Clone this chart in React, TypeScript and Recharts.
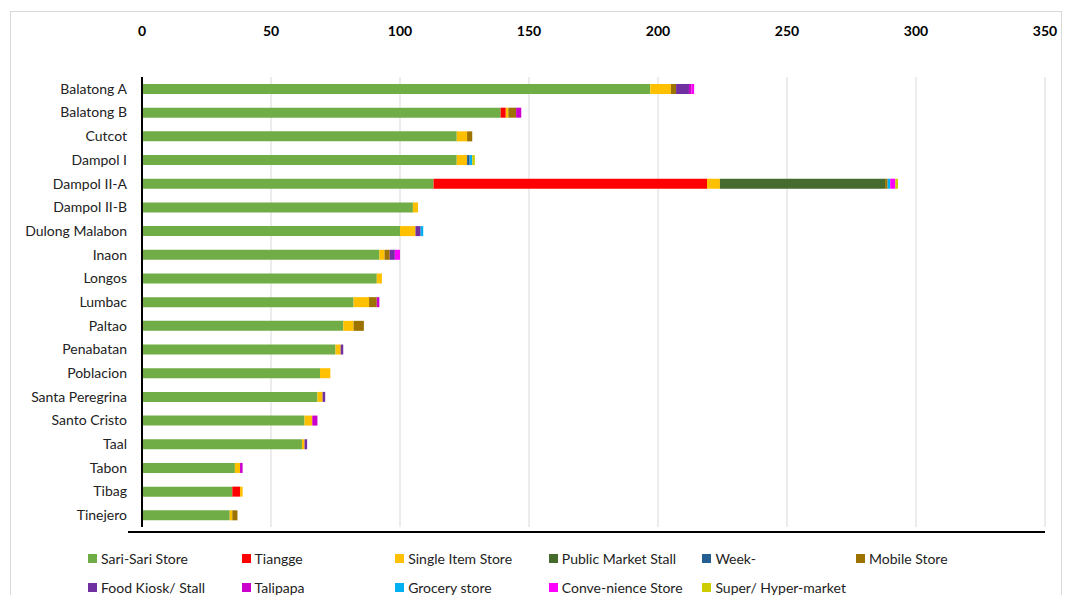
import React from 'react';
import { BarChart, Bar, XAxis, YAxis, CartesianGrid, Legend } from 'recharts';

const categories = ['Balatong A', 'Balatong B', 'Cutcot', 'Dampol I', 'Dampol II-A', 'Dampol II-B', 'Dulong Malabon', 'Inaon', 'Longos', 'Lumbac', 'Paltao', 'Penabatan', 'Poblacion', 'Santa Peregrina', 'Santo Cristo', 'Taal', 'Tabon', 'Tibag', 'Tinejero'];

const sariSari = [197, 139, 122, 122, 113, 105, 100, 92, 91, 82, 78, 75, 69, 68, 63, 62, 36, 35, 34];
const tiangge = [0, 2, 0, 0, 106, 0, 0, 0, 0, 0, 0, 0, 0, 0, 0, 0, 0, 3, 0];
const singleItem = [8, 1, 4, 4, 5, 2, 6, 2, 2, 6, 4, 2, 4, 2, 3, 1, 2, 1, 1];
const publicMarket = [0, 0, 0, 0, 64, 0, 0, 0, 0, 0, 0, 0, 0, 0, 0, 0, 0, 0, 0];
const week = [0, 0, 0, 1, 0, 0, 0, 0, 0, 0, 0, 0, 0, 0, 0, 0, 0, 0, 0];
const mobile = [2, 3, 2, 0, 1, 0, 0, 2, 0, 3, 4, 0, 0, 0, 0, 0, 0, 0, 2];
const foodKiosk = [5, 0, 0, 0, 0, 0, 2, 2, 0, 0, 0, 1, 0, 1, 0, 1, 0, 0, 0];
const talipapa = [1, 2, 0, 0, 0, 0, 0, 0, 0, 1, 0, 0, 0, 0, 2, 0, 1, 0, 0];
const grocery = [0, 0, 0, 1, 1, 0, 1, 0, 0, 0, 0, 0, 0, 0, 0, 0, 0, 0, 0];
const convenience = [1, 0, 0, 0, 2, 0, 0, 2, 0, 0, 0, 0, 0, 0, 0, 0, 0, 0, 0];
const superMarket = [0, 0, 0, 1, 1, 0, 0, 0, 0, 0, 0, 0, 0, 0, 0, 0, 0, 0, 0];

const xTicks = [0, 50, 100, 150, 200, 250, 300, 350];

const series = [
  { key: 'sari', name: 'Sari-Sari Store', values: sariSari, color: '#70AD47' },
  { key: 'tiangge', name: 'Tiangge', values: tiangge, color: '#FF0000' },
  { key: 'single', name: 'Single Item Store', values: singleItem, color: '#FFC000' },
  { key: 'public', name: 'Public Market Stall', values: publicMarket, color: '#466B2E' },
  { key: 'week', name: 'Week-', values: week, color: '#255E91' },
  { key: 'mobile', name: 'Mobile Store', values: mobile, color: '#9C7200' },
  { key: 'kiosk', name: 'Food Kiosk/ Stall', values: foodKiosk, color: '#7030A0' },
  { key: 'talipapa', name: 'Talipapa', values: talipapa, color: '#CC00CC' },
  { key: 'grocery', name: 'Grocery store', values: grocery, color: '#00B0F0' },
  { key: 'conv', name: 'Conve-nience Store', values: convenience, color: '#FF00FF' },
  { key: 'super', name: 'Super/ Hyper-market', values: superMarket, color: '#CCCC00' },
];

const data = categories.map((name, i) => {
  const row: Record<string, string | number> = { name };
  series.forEach((s) => {
    row[s.key] = s.values[i];
  });
  return row;
});

const FONT = 'Lato, "Noto Sans", sans-serif';

const renderLegend = (props: any) => {
  const payload = props.payload || [];
  const ordered = series
    .map((s) => payload.find((p: any) => p.value === s.name) || { value: s.name, color: s.color })
    .filter(Boolean);
  return (
    <div
      style={{
        display: 'grid',
        gridTemplateColumns: 'repeat(6, 153.6px)',
        rowGap: 12,
        fontFamily: FONT,
        fontSize: 14,
        color: '#222',
        textAlign: 'left',
      }}
    >
      {ordered.map((p: any) => (
        <div key={p.value} style={{ display: 'flex', alignItems: 'center', height: 17, whiteSpace: 'nowrap' }}>
          <span style={{ display: 'inline-block', width: 9, height: 9, background: p.color, marginRight: 4 }} />
          <span>{p.value}</span>
        </div>
      ))}
    </div>
  );
};

export default function App() {
  return (
    <div style={{ position: 'relative', width: 1058, height: 587, overflow: 'hidden', background: '#fff' }}>
      <div
        style={{
          position: 'absolute',
          left: 2,
          top: 3,
          width: 1052,
          height: 640,
          border: '1px solid #D9D9D9',
          boxSizing: 'border-box',
        }}
      />
      <BarChart
        width={1058}
        height={587}
        data={data}
        layout="vertical"
        margin={{ top: 0, right: 21, bottom: 68, left: 0 }}
        barCategoryGap={0}
      >
        <CartesianGrid horizontal={false} vertical={true} stroke="#D9D9D9" strokeWidth={1} />
        <XAxis
          type="number"
          orientation="top"
          domain={[0, 350]}
          ticks={xTicks}
          interval={0}
          height={69}
          axisLine={false}
          tickLine={false}
          tickSize={0}
          tickMargin={41}
          tick={{ fontFamily: FONT, fontSize: 14, fontWeight: 700, fill: '#000' }}
        />
        <YAxis
          type="category"
          dataKey="name"
          width={134}
          axisLine={{ stroke: '#000', strokeWidth: 2 }}
          tickLine={false}
          tickSize={0}
          tickMargin={15}
          interval={0}
          tick={{ fontFamily: FONT, fontSize: 14, fill: '#222' }}
        />
        {series.map((s) => (
          <Bar
            key={s.key}
            dataKey={s.key}
            name={s.name}
            stackId="a"
            fill={s.color}
            barSize={10}
            isAnimationActive={false}
          />
        ))}
        <Legend
          layout="horizontal"
          verticalAlign="middle"
          align="center"
          content={renderLegend}
          wrapperStyle={{ position: 'absolute', left: 80, top: 542, width: 960 }}
        />
      </BarChart>
      <div
        style={{
          position: 'absolute',
          left: 120,
          top: 523,
          width: 917,
          height: 2,
          background: '#000',
        }}
      />
    </div>
  );
}
